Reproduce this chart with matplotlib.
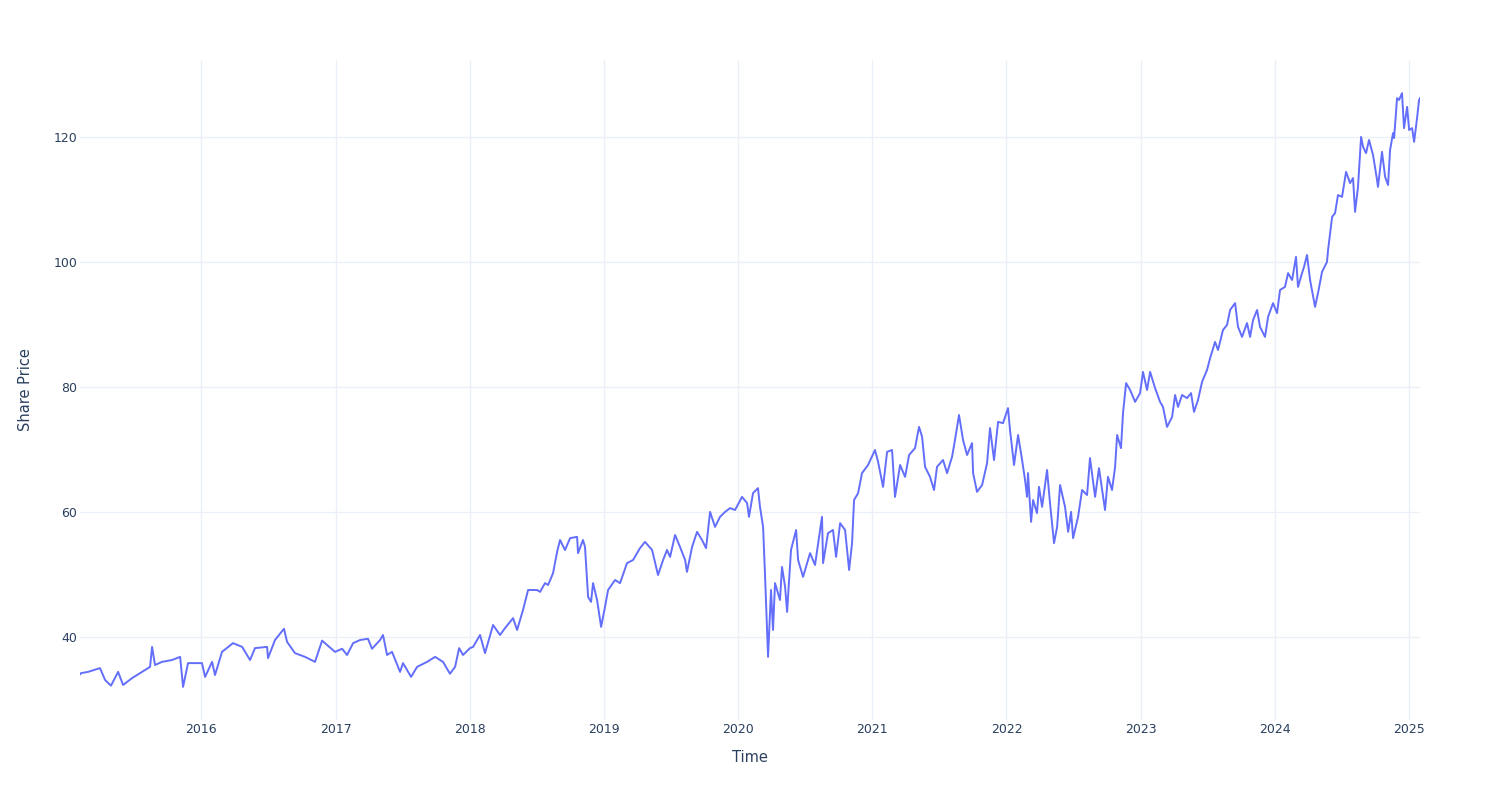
import pandas as pd
import matplotlib
matplotlib.use("Agg")
import matplotlib.pyplot as plt
import matplotlib.dates as mdates

# decimal years, with the share price at each point
years = [
    2015.098, 2015.106, 2015.158, 2015.247, 2015.285, 2015.329, 2015.382, 2015.419, 2015.486,
    2015.560, 2015.620, 2015.635, 2015.657, 2015.709, 2015.784, 2015.844, 2015.866, 2015.903,
    2016.007, 2016.030, 2016.082, 2016.104, 2016.156, 2016.238, 2016.306, 2016.365, 2016.402,
    2016.492, 2016.499, 2016.551, 2016.618, 2016.641, 2016.700, 2016.775, 2016.849, 2016.902,
    2016.998, 2017.051, 2017.088, 2017.133, 2017.185, 2017.244, 2017.274, 2017.334, 2017.356,
    2017.386, 2017.423, 2017.483, 2017.505, 2017.565, 2017.610, 2017.684, 2017.744, 2017.803,
    2017.855, 2017.893, 2017.923, 2017.952, 2018.004, 2018.027, 2018.079, 2018.116, 2018.176,
    2018.228, 2018.265, 2018.325, 2018.355, 2018.399, 2018.437, 2018.504, 2018.526, 2018.563,
    2018.586, 2018.623, 2018.653, 2018.675, 2018.712, 2018.750, 2018.802, 2018.809, 2018.846,
    2018.861, 2018.884, 2018.906, 2018.921, 2018.951, 2018.981, 2019.010, 2019.033, 2019.085,
    2019.122, 2019.174, 2019.219, 2019.271, 2019.308, 2019.361, 2019.405, 2019.443, 2019.472,
    2019.495, 2019.532, 2019.569, 2019.607, 2019.621, 2019.659, 2019.696, 2019.733, 2019.763,
    2019.793, 2019.830, 2019.867, 2019.905, 2019.942, 2019.979, 2020.031, 2020.069, 2020.083,
    2020.113, 2020.150, 2020.165, 2020.188, 2020.203, 2020.218, 2020.225, 2020.247, 2020.262,
    2020.277, 2020.314, 2020.329, 2020.352, 2020.367, 2020.396, 2020.434, 2020.449, 2020.486,
    2020.538, 2020.575, 2020.627, 2020.635, 2020.672, 2020.709, 2020.732, 2020.762, 2020.799,
    2020.829, 2020.851, 2020.866, 2020.896, 2020.925, 2020.970, 2021.022, 2021.045, 2021.082,
    2021.112, 2021.149, 2021.171, 2021.209, 2021.246, 2021.276, 2021.320, 2021.350, 2021.373,
    2021.395, 2021.432, 2021.462, 2021.484, 2021.529, 2021.559, 2021.596, 2021.618, 2021.648,
    2021.678, 2021.708, 2021.745, 2021.753, 2021.782, 2021.820, 2021.857, 2021.879, 2021.909,
    2021.939, 2021.976, 2022.013, 2022.028, 2022.058, 2022.088, 2022.118, 2022.140, 2022.155,
    2022.162, 2022.185, 2022.200, 2022.229, 2022.244, 2022.267, 2022.304, 2022.326, 2022.356,
    2022.379, 2022.401, 2022.438, 2022.461, 2022.483, 2022.498, 2022.535, 2022.565, 2022.602,
    2022.624, 2022.662, 2022.691, 2022.736, 2022.758, 2022.788, 2022.811, 2022.826, 2022.855,
    2022.870, 2022.893, 2022.923, 2022.960, 2022.997, 2023.019, 2023.049, 2023.072, 2023.109,
    2023.146, 2023.168, 2023.198, 2023.236, 2023.258, 2023.280, 2023.310, 2023.347, 2023.377,
    2023.399, 2023.429, 2023.459, 2023.496, 2023.519, 2023.556, 2023.578, 2023.615, 2023.645,
    2023.668, 2023.705, 2023.727, 2023.757, 2023.794, 2023.817, 2023.839, 2023.869, 2023.891,
    2023.928, 2023.951, 2023.988, 2024.018, 2024.040, 2024.077, 2024.100, 2024.130, 2024.159,
    2024.174, 2024.204, 2024.219, 2024.241, 2024.264, 2024.301, 2024.323, 2024.353, 2024.390,
    2024.398, 2024.428, 2024.450, 2024.472, 2024.502, 2024.532, 2024.562, 2024.584, 2024.599,
    2024.621, 2024.644, 2024.659, 2024.681, 2024.703, 2024.733, 2024.763, 2024.770, 2024.800,
    2024.823, 2024.845, 2024.860, 2024.882, 2024.890, 2024.912, 2024.927, 2024.949, 2024.964,
    2024.987, 2025.002, 2025.024, 2025.039, 2025.061, 2025.076, 2025.083,
]
prices = [
    34.0, 34.2, 34.4, 35.0, 33.1, 32.2, 34.4, 32.3, 33.4,
    34.4, 35.2, 38.4, 35.5, 36.0, 36.3, 36.8, 32.0, 35.8,
    35.8, 33.6, 36.0, 33.9, 37.6, 39.0, 38.4, 36.3, 38.2,
    38.4, 36.6, 39.5, 41.3, 39.2, 37.4, 36.8, 36.0, 39.4,
    37.6, 38.1, 37.1, 39.0, 39.5, 39.7, 38.1, 39.5, 40.3,
    37.1, 37.6, 34.4, 35.8, 33.6, 35.2, 36.0, 36.8, 36.0,
    34.1, 35.2, 38.2, 37.1, 38.2, 38.4, 40.3, 37.4, 41.9,
    40.3, 41.4, 43.0, 41.1, 44.3, 47.5, 47.5, 47.2, 48.6,
    48.3, 50.2, 53.6, 55.5, 53.9, 55.8, 56.0, 53.4, 55.5,
    54.4, 46.4, 45.6, 48.6, 45.9, 41.6, 44.8, 47.5, 49.1,
    48.6, 51.8, 52.3, 54.2, 55.2, 53.9, 49.9, 52.3, 53.9,
    52.8, 56.3, 54.4, 52.3, 50.4, 54.4, 56.8, 55.5, 54.2,
    60.0, 57.6, 59.2, 60.0, 60.6, 60.3, 62.4, 61.4, 59.2,
    63.0, 63.8, 60.8, 57.6, 49.6, 41.1, 36.8, 47.5, 41.1,
    48.6, 45.9, 51.2, 48.0, 44.0, 53.9, 57.1, 52.3, 49.6,
    53.4, 51.5, 59.2, 51.8, 56.6, 57.1, 52.8, 58.2, 57.1,
    50.7, 55.0, 61.9, 63.0, 66.2, 67.5, 69.9, 68.0, 64.0,
    69.6, 69.9, 62.4, 67.5, 65.6, 69.1, 70.2, 73.6, 72.0,
    67.2, 65.6, 63.5, 67.2, 68.3, 66.2, 68.8, 71.5, 75.5,
    71.5, 69.1, 71.0, 66.2, 63.2, 64.3, 67.8, 73.4, 68.3,
    74.4, 74.2, 76.6, 73.1, 67.5, 72.3, 68.3, 65.1, 62.4,
    66.2, 58.4, 61.9, 59.8, 64.0, 60.8, 66.7, 61.4, 55.0,
    57.6, 64.3, 60.8, 56.8, 60.0, 55.8, 59.2, 63.5, 62.7,
    68.6, 62.4, 67.0, 60.3, 65.6, 63.5, 67.2, 72.3, 70.2,
    75.8, 80.6, 79.5, 77.6, 79.0, 82.4, 79.5, 82.4, 79.8,
    77.6, 76.8, 73.6, 75.2, 78.7, 76.8, 78.7, 78.2, 79.0,
    76.0, 77.9, 80.8, 82.7, 84.6, 87.2, 85.9, 89.1, 89.9,
    92.3, 93.4, 89.6, 88.0, 90.2, 88.0, 90.7, 92.3, 89.6,
    88.0, 91.2, 93.4, 91.8, 95.5, 96.0, 98.2, 97.1, 100.8,
    96.0, 98.2, 99.2, 101.1, 97.1, 92.8, 95.0, 98.4, 100.0,
    101.9, 107.2, 107.8, 110.7, 110.4, 114.4, 112.6, 113.4, 108.0,
    112.0, 120.0, 118.4, 117.4, 119.5, 117.1, 113.1, 112.0, 117.6,
    113.6, 112.3, 117.9, 120.6, 119.8, 126.2, 125.9, 127.0, 121.4,
    124.8, 121.1, 121.4, 119.2, 123.0, 125.9, 126.2,
]

base = pd.Timestamp("2016-01-01")
dates = [base + pd.Timedelta(days=(y - 2016) * 365.25) for y in years]

grid_col = "#EBF0F8"
text_col = "#2a3f5f"

fig = plt.figure(figsize=(15, 8), dpi=100)
ax = fig.add_axes([80 / 1500, 1 - 720 / 800, 1340 / 1500, 660 / 800])

ax.plot(dates, prices, color="#636EFA", linewidth=1.4)

ax.set_xlim(dates[0], dates[-1])
ax.set_ylim(26.7, 132.3)
ax.set_yticks([40, 60, 80, 100, 120])
ax.xaxis.set_major_locator(mdates.YearLocator())
ax.xaxis.set_major_formatter(mdates.DateFormatter("%Y"))

ax.grid(True, color=grid_col, linewidth=1)
ax.set_axisbelow(True)
for s in ax.spines.values():
    s.set_visible(False)
ax.tick_params(length=0, labelsize=9, labelcolor=text_col, pad=2)

ax.set_xlabel("Time", fontsize=10.5, color=text_col, labelpad=10)
ax.set_ylabel("Share Price", fontsize=10.5, color=text_col, labelpad=15)

fig.savefig("out.png", dpi=100, facecolor="white")
